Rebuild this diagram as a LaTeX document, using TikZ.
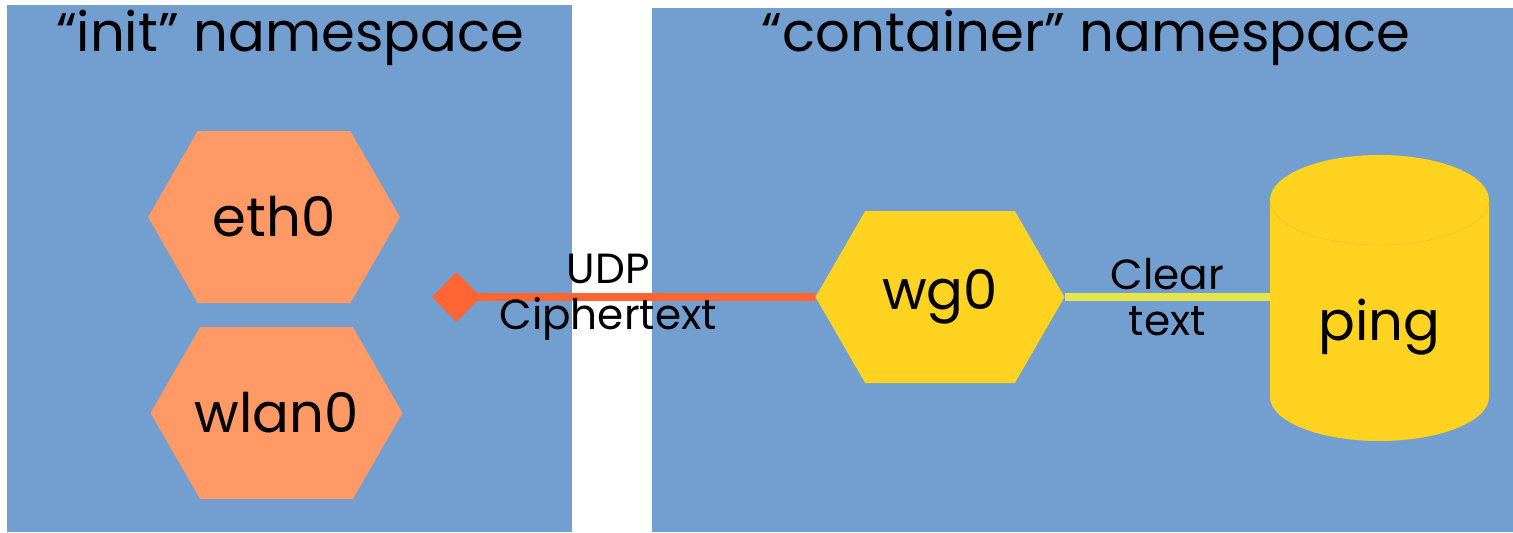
\documentclass[tikz,border=0pt]{standalone}
\usepackage{fontspec}
\setmainfont{Poppins}
\usetikzlibrary{shapes.symbols,arrows.meta}

\definecolor{nsblue}{RGB}{114,159,207}
\definecolor{ifaceorange}{RGB}{255,153,102}
\definecolor{wgyellow}{RGB}{255,211,32}
\definecolor{udpred}{RGB}{255,102,51}
\definecolor{clearlime}{RGB}{230,230,76}

\tikzset{
    nsbox/.style={fill=nsblue},
    nstitle/.style={font=\fontsize{31}{33}\selectfont},
    hexbox/.style={signal, signal to=west and east, signal pointer angle=120,
        minimum width=5.04cm, minimum height=3.44cm, inner ysep=0pt, inner xsep=-0.8cm,
        font=\fontsize{31}{33}\selectfont},
    linklabel/.style={align=center, font=\fontsize{24}{26}\selectfont}
}

\begin{document}
\begin{tikzpicture}
    \useasboundingbox (0,0) rectangle (30.26,10.64);

    % Namespaces
    \fill[nsbox] (0.14,0) rectangle (11.44,10.54);
    \fill[nsbox] (13.04,0) rectangle (30.26,10.48);
    \node[nstitle] (inittitle) at (5.8,9.88) {“init” namespace};
    \node[nstitle] (contitle) at (21.72,9.88) {“container” namespace};

    % Interfaces
    \node[hexbox, fill=ifaceorange] (eth0) at (5.48,6.3) {eth0};
    \node[hexbox, fill=ifaceorange] (wlan0) at (5.53,2.38) {wlan0};
    \node[hexbox, fill=wgyellow, minimum width=4.98cm] (wg0) at (18.8,4.7) {wg0};

    % Process
    \fill[wgyellow] (25.4,6.64) -- (25.4,2.7)
        arc[start angle=180, end angle=360, x radius=2.19cm, y radius=0.88cm]
        -- (29.78,6.64)
        arc[start angle=0, end angle=180, x radius=2.19cm, y radius=0.9cm] -- cycle;
    \draw[wgyellow!90!black, very thin] (25.4,6.64)
        arc[start angle=180, end angle=360, x radius=2.19cm, y radius=0.9cm];
    \node[minimum width=4.38cm, inner sep=0pt, font=\fontsize{31}{33}\selectfont] (ping) at (27.59,4.1) {ping};
    \coordinate (sock) at (8.64,4.7);

    % Links
    \draw[udpred, line width=4.5pt, {Diamond[length=0.98cm, width=1cm]}-] (sock) -- (wg0.west)
        node[linklabel, text=black, pos=0.46] {UDP\\Ciphertext};
    \draw[clearlime, line width=4.5pt] (wg0.east) -- (wg0.east -| ping.west)
        node[linklabel, text=black, midway] {Clear\\text};
\end{tikzpicture}
\end{document}
